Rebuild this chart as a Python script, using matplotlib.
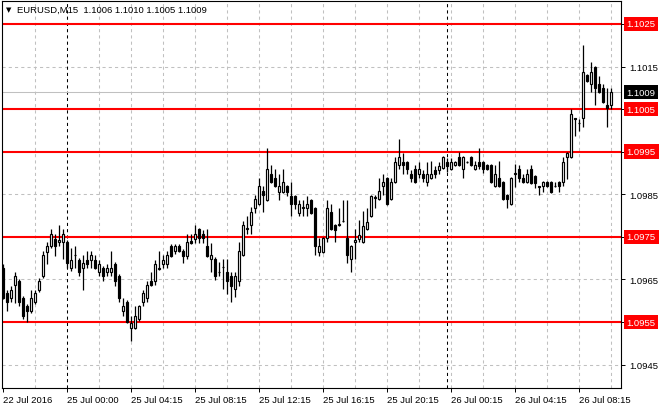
import matplotlib
matplotlib.use('Agg')
import matplotlib.pyplot as plt
import numpy as np

plt.rcParams['font.family'] = ['Liberation Sans', 'DejaVu Sans']

symbol = 'EURUSD,M15'
last_ohlc = ['1.1006', '1.1010', '1.1005', '1.1009']

# M15 candles, oldest first
opens = [
    1.09677, 1.09618, 1.09606, 1.09637, 1.09646, 1.09606, 1.09588, 1.09576, 1.09597, 1.09625,
    1.09658, 1.09714, 1.09729, 1.09745, 1.09738, 1.09738, 1.09738, 1.09677, 1.09707, 1.09696,
    1.09677, 1.09696, 1.09696, 1.09696, 1.09667, 1.09677, 1.09667, 1.09667, 1.09686, 1.09658,
    1.09576, 1.09597, 1.09536, 1.09536, 1.09557, 1.09597, 1.09606, 1.09646, 1.09646, 1.09674,
    1.09686, 1.09686, 1.09729, 1.09717, 1.09729, 1.09717, 1.09705, 1.09740, 1.09745, 1.09768,
    1.09757, 1.09729, 1.09698, 1.09698, 1.09667, 1.09679, 1.09667, 1.09658, 1.09628, 1.09646,
    1.09707, 1.09768, 1.09778, 1.09818, 1.09827, 1.09858, 1.09837, 1.09898, 1.09888, 1.09855,
    1.09855, 1.09869, 1.09846, 1.09846, 1.09806, 1.09818, 1.09818, 1.09837, 1.09818, 1.09714,
    1.09714, 1.09747, 1.09808, 1.09778, 1.09778, 1.09787, 1.09747, 1.09698, 1.09738, 1.09745,
    1.09738, 1.09768, 1.09799, 1.09841, 1.09839, 1.09869, 1.09888, 1.09839, 1.09879, 1.09919,
    1.09926, 1.09926, 1.09898, 1.09909, 1.09898, 1.09898, 1.09879, 1.09888, 1.09907, 1.09907,
    1.09912, 1.09926, 1.09909, 1.09919, 1.09938, 1.09909, 1.09926, 1.09938, 1.09909, 1.09926,
    1.09926, 1.09919, 1.09919, 1.09869, 1.09888, 1.09879, 1.09848, 1.09827, 1.09898, 1.09909,
    1.09888, 1.09879, 1.09909, 1.09893, 1.09869, 1.09869, 1.09879, 1.09879, 1.09869, 1.09879,
    1.09879, 1.09938, 1.09938, 1.10029, 1.10017, 1.10029, 1.10130, 1.10109, 1.10149, 1.10109,
    1.10100, 1.10060, 1.10060,
]
highs = [
    1.09686, 1.09625, 1.09635, 1.09667, 1.09651, 1.09611, 1.09592, 1.09625, 1.09625, 1.09653,
    1.09717, 1.09738, 1.09768, 1.09757, 1.09778, 1.09768, 1.09743, 1.09724, 1.09729, 1.09700,
    1.09707, 1.09717, 1.09717, 1.09707, 1.09696, 1.09682, 1.09686, 1.09717, 1.09691, 1.09663,
    1.09606, 1.09602, 1.09564, 1.09588, 1.09590, 1.09625, 1.09646, 1.09667, 1.09696, 1.09717,
    1.09707, 1.09717, 1.09733, 1.09733, 1.09733, 1.09722, 1.09757, 1.09757, 1.09778, 1.09771,
    1.09766, 1.09768, 1.09736, 1.09703, 1.09691, 1.09698, 1.09698, 1.09667, 1.09667, 1.09738,
    1.09787, 1.09799, 1.09820, 1.09848, 1.09888, 1.09869, 1.09959, 1.09919, 1.09909, 1.09898,
    1.09909, 1.09872, 1.09879, 1.09848, 1.09837, 1.09837, 1.09846, 1.09839, 1.09820, 1.09747,
    1.09750, 1.09837, 1.09827, 1.09780, 1.09818, 1.09837, 1.09837, 1.09731, 1.09768, 1.09790,
    1.09811, 1.09818, 1.09848, 1.09848, 1.09888, 1.09898, 1.09891, 1.09888, 1.09938, 1.09980,
    1.09947, 1.09928, 1.09907, 1.09919, 1.09926, 1.09907, 1.09926, 1.09928, 1.09916, 1.09926,
    1.09940, 1.09935, 1.09935, 1.09928, 1.09949, 1.09940, 1.09928, 1.09940, 1.09928, 1.09959,
    1.09928, 1.09921, 1.09921, 1.09919, 1.09928, 1.09881, 1.09851, 1.09890, 1.09921, 1.09919,
    1.09898, 1.09909, 1.09919, 1.09895, 1.09870, 1.09881, 1.09881, 1.09881, 1.09879, 1.09881,
    1.09938, 1.09949, 1.10050, 1.10030, 1.10027, 1.10201, 1.10133, 1.10161, 1.10151, 1.10128,
    1.10109, 1.10100, 1.10100,
]
lows = [
    1.09604, 1.09576, 1.09597, 1.09595, 1.09588, 1.09557, 1.09550, 1.09571, 1.09592, 1.09620,
    1.09653, 1.09686, 1.09724, 1.09705, 1.09729, 1.09698, 1.09677, 1.09670, 1.09677, 1.09658,
    1.09625, 1.09677, 1.09677, 1.09674, 1.09658, 1.09646, 1.09658, 1.09658, 1.09635, 1.09597,
    1.09564, 1.09548, 1.09505, 1.09534, 1.09552, 1.09588, 1.09597, 1.09635, 1.09637, 1.09672,
    1.09677, 1.09677, 1.09703, 1.09710, 1.09714, 1.09689, 1.09698, 1.09733, 1.09736, 1.09736,
    1.09736, 1.09703, 1.09667, 1.09649, 1.09658, 1.09628, 1.09616, 1.09597, 1.09609, 1.09635,
    1.09705, 1.09757, 1.09757, 1.09806, 1.09825, 1.09808, 1.09834, 1.09877, 1.09867, 1.09837,
    1.09853, 1.09846, 1.09799, 1.09815, 1.09799, 1.09799, 1.09799, 1.09804, 1.09707, 1.09705,
    1.09712, 1.09738, 1.09766, 1.09738, 1.09776, 1.09785, 1.09689, 1.09667, 1.09698, 1.09738,
    1.09736, 1.09766, 1.09797, 1.09818, 1.09837, 1.09848, 1.09825, 1.09837, 1.09877, 1.09909,
    1.09898, 1.09898, 1.09879, 1.09877, 1.09888, 1.09879, 1.09869, 1.09886, 1.09888, 1.09898,
    1.09909, 1.09902, 1.09907, 1.09916, 1.09916, 1.09888, 1.09923, 1.09916, 1.09907, 1.09909,
    1.09900, 1.09907, 1.09877, 1.09867, 1.09867, 1.09837, 1.09818, 1.09825, 1.09867, 1.09879,
    1.09877, 1.09877, 1.09875, 1.09865, 1.09848, 1.09855, 1.09867, 1.09853, 1.09867, 1.09855,
    1.09869, 1.09886, 1.09935, 1.09987, 1.09999, 1.10008, 1.10114, 1.10090, 1.10060, 1.10088,
    1.10064, 1.10008, 1.10050,
]
closes = [
    1.09606, 1.09597, 1.09625, 1.09658, 1.09597, 1.09564, 1.09576, 1.09606, 1.09618, 1.09646,
    1.09707, 1.09729, 1.09757, 1.09729, 1.09743, 1.09757, 1.09689, 1.09696, 1.09708, 1.09667,
    1.09689, 1.09686, 1.09707, 1.09677, 1.09686, 1.09658, 1.09677, 1.09677, 1.09646, 1.09606,
    1.09588, 1.09550, 1.09548, 1.09564, 1.09588, 1.09618, 1.09637, 1.09637, 1.09686, 1.09677,
    1.09696, 1.09707, 1.09705, 1.09729, 1.09717, 1.09705, 1.09738, 1.09736, 1.09757, 1.09747,
    1.09747, 1.09705, 1.09707, 1.09658, 1.09668, 1.09680, 1.09646, 1.09635, 1.09658, 1.09717,
    1.09778, 1.09771, 1.09808, 1.09839, 1.09869, 1.09848, 1.09909, 1.09879, 1.09869, 1.09869,
    1.09879, 1.09855, 1.09827, 1.09827, 1.09827, 1.09820, 1.09827, 1.09806, 1.09729, 1.09729,
    1.09747, 1.09818, 1.09768, 1.09766, 1.09780, 1.09788, 1.09707, 1.09729, 1.09743, 1.09754,
    1.09776, 1.09785, 1.09846, 1.09844, 1.09858, 1.09879, 1.09827, 1.09879, 1.09926, 1.09938,
    1.09919, 1.09909, 1.09888, 1.09879, 1.09909, 1.09888, 1.09898, 1.09898, 1.09898, 1.09916,
    1.09938, 1.09916, 1.09926, 1.09926, 1.09919, 1.09938, 1.09925, 1.09919, 1.09919, 1.09916,
    1.09909, 1.09909, 1.09879, 1.09898, 1.09869, 1.09839, 1.09839, 1.09888, 1.09899, 1.09888,
    1.09879, 1.09898, 1.09877, 1.09877, 1.09868, 1.09879, 1.09869, 1.09855, 1.09870, 1.09869,
    1.09926, 1.09947, 1.10039, 1.10027, 1.10018, 1.10137, 1.10116, 1.10137, 1.10100, 1.10090,
    1.10067, 1.10053, 1.10090,
]

# horizontal levels
red_levels = [1.1025, 1.1005, 1.0995, 1.0975, 1.0955]
grid_levels = [1.1015, 1.0985, 1.0965, 1.0945]
bid = 1.1009

# time axis
time_ticks = [0, 16, 32, 48, 64, 80, 96, 112, 128, 144]
time_labels = ['22 Jul 2016', '25 Jul 00:00', '25 Jul 04:15', '25 Jul 08:15', '25 Jul 12:15',
               '25 Jul 16:15', '25 Jul 20:15', '26 Jul 00:15', '26 Jul 04:15', '26 Jul 08:15']
day_breaks = [16, 111]

o = np.array(opens)
h = np.array(highs)
l = np.array(lows)
c = np.array(closes)
idx = np.arange(len(o))

fig = plt.figure(figsize=(6.6, 4.1), dpi=100)
ax = fig.add_axes([2 / 660, 21 / 410, 619 / 660, 387 / 410])
ax.set_xlim(-0.25, 154.5)
ax.set_ylim(1.09395, 1.10304)

dash = (0, (3, 3))
grey = '#c0c0c0'
for g in np.arange(8, 153, 8):
    if g in day_breaks:
        continue
    ax.axvline(g, color=grey, lw=0.75, ls=dash, zorder=1)
for g in grid_levels:
    ax.axhline(g, color=grey, lw=0.75, ls=dash, zorder=1)
for d in day_breaks:
    ax.axvline(d, color='black', lw=0.75, ls=dash, zorder=1.5)
ax.axhline(bid, color=grey, lw=0.75, zorder=1.5)
for lv in red_levels:
    ax.axhline(lv, color='#ff0000', lw=1.5, zorder=2)

# candles
ax.vlines(idx, l, h, color='black', lw=0.9, zorder=3)
up = c >= o
ax.bar(idx, np.abs(c - o), bottom=np.minimum(o, c), width=0.55,
       color=np.where(up, 'white', 'black'), edgecolor='black', linewidth=0.85, zorder=4)

# axes look
for s in ax.spines.values():
    s.set_color('black')
    s.set_linewidth(0.8)

fs = 6.8
ax.set_xticks(time_ticks)
ax.set_xticklabels(time_labels, ha='left', fontsize=fs)
ax.tick_params(axis='x', length=3, width=0.7, pad=2)

ax.yaxis.tick_right()
ax.set_yticks(grid_levels + red_levels)
ax.set_yticklabels([f'{v:.4f}' for v in grid_levels] + [''] * len(red_levels), fontsize=fs)
ax.tick_params(axis='y', length=3, width=0.7, pad=3)

for lv in red_levels:
    ax.annotate(f'{lv:.4f}', xy=(1, lv), xycoords=('axes fraction', 'data'),
                xytext=(4, 0), textcoords='offset points', va='center', ha='left',
                fontsize=fs, color='white', annotation_clip=False,
                bbox=dict(boxstyle='square,pad=0.3', fc='#ff0000', ec='none'))
ax.annotate(f'{bid:.4f}', xy=(1, bid), xycoords=('axes fraction', 'data'),
            xytext=(4, 0), textcoords='offset points', va='center', ha='left',
            fontsize=fs, color='white', annotation_clip=False,
            bbox=dict(boxstyle='square,pad=0.3', fc='black', ec='none'))

fig.text(6 / 660, 1 - 10 / 410, '\u25bc', fontsize=5, va='center', ha='left',
         family=['DejaVu Sans'])
fig.text(17 / 660, 1 - 10 / 410, symbol + '  ' + ' '.join(last_ohlc),
         fontsize=fs, va='center', ha='left')

fig.savefig('out.png', dpi=100)
